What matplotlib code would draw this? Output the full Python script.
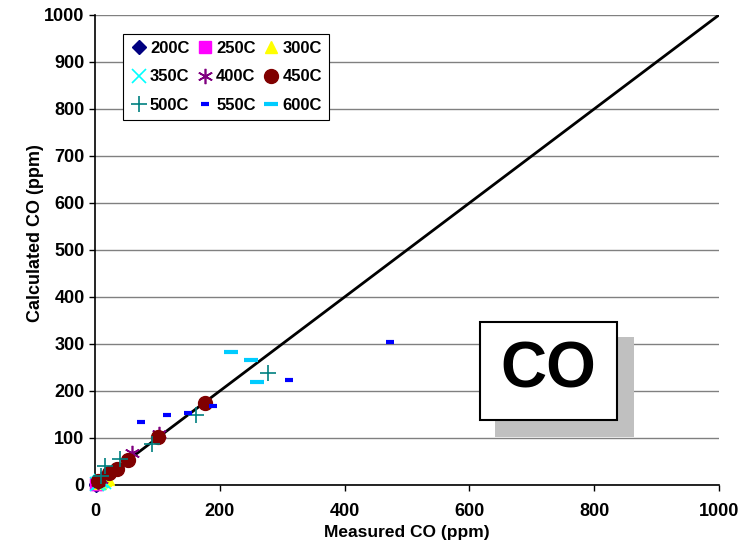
import matplotlib.pyplot as plt
from matplotlib.patches import Rectangle

plt.rcParams['font.family'] = ['Liberation Sans', 'DejaVu Sans']
plt.rcParams['font.weight'] = 'bold'

# measured / calculated CO (ppm) per temperature
m200 = [1, 3, 5, 2]
c200 = [1, 2, 4, 3]
m250 = [2, 4, 6, 3]
c250 = [3, 5, 6, 2]
m300 = [8, 12, 16, 20]
c300 = [5, 8, 10, 12]
m350 = [3, 6, 10, 14]
c350 = [2, 5, 8, 6]
m400 = [4, 10, 59, 103]
c400 = [6, 12, 68, 108]
m450 = [5, 22, 35, 53, 101, 176]
c450 = [8, 26, 34, 53, 102, 175]
m500 = [16, 40, 91, 162, 277, 10]
c500 = [40, 55, 87, 149, 238, 20]
m550 = [74, 115, 149, 189, 311, 473]
c550 = [134, 149, 153, 168, 223, 305]
m600 = [218, 250, 260]
c600 = [283, 266, 219]

series = [
    ("200C", m200, c200, dict(marker='D', color='#000080', ms=7, mec='#000080')),
    ("250C", m250, c250, dict(marker='s', color='#FF00FF', ms=8, mec='#FF00FF')),
    ("300C", m300, c300, dict(marker='^', color='#FFFF00', ms=9, mec='#FFFF00')),
    ("350C", m350, c350, dict(marker='x', color='#00FFFF', ms=10, mew=1.2)),
    ("400C", m400, c400, dict(marker=(6, 2, 0), color='#800080', ms=11, mew=1.2)),
    ("450C", m450, c450, dict(marker='o', color='#800000', ms=10, mec='#800000')),
    ("500C", m500, c500, dict(marker='+', color='#008080', ms=12, mew=1.2)),
    ("550C", m550, c550, dict(marker='_', color='#0000FF', ms=6, mew=3)),
    ("600C", m600, c600, dict(marker='_', color='#00CCFF', ms=10, mew=3)),
]

fig = plt.figure(figsize=(7.5, 5.53), dpi=100)
ax = fig.add_axes([0.1267, 0.123, 0.832, 0.850])

ax.set_xlim(0, 1000)
ax.set_ylim(0, 1000)
ax.set_yticks(range(0, 1001, 100))
ax.set_xticks(range(0, 1001, 200))
ax.grid(axis='y', color='#808080', linewidth=1)
ax.set_axisbelow(True)
for s in ['top', 'right']:
    ax.spines[s].set_visible(False)
for s in ['left', 'bottom']:
    ax.spines[s].set_linewidth(1.2)
ax.tick_params(labelsize=13, length=4, width=1)
ax.tick_params(axis='x', pad=9)
for lab in ax.get_xticklabels() + ax.get_yticklabels():
    lab.set_fontweight('bold')

ax.plot([0, 1000], [0, 1000], color='black', linewidth=2, zorder=2)

handles = {}
for name, mx, cy, st in series:
    h, = ax.plot(mx, cy, linestyle='none', label=name, zorder=3, clip_on=False, **st)
    handles[name] = h

# legend reads row by row, matplotlib fills column by column
order = ["200C", "350C", "500C", "250C", "400C", "550C", "300C", "450C", "600C"]
leg = ax.legend([handles[k] for k in order], order, ncol=3, loc='upper left',
                bbox_to_anchor=(0.032, 0.978),
                frameon=True, fancybox=False, edgecolor='black',
                prop={'weight': 'bold', 'size': 12},
                handletextpad=0.15, columnspacing=0.45, labelspacing=0.8,
                handlelength=1.0, borderpad=0.45, framealpha=1)
leg.get_frame().set_linewidth(0.8)

ax.set_xlabel("Measured CO (ppm)", fontsize=12.5, fontweight='bold')
ax.set_ylabel("Calculated CO (ppm)", fontsize=13, fontweight='bold')
ax.xaxis.set_label_coords(0.5, -0.086)
ax.yaxis.set_label_coords(-0.082, 0.536)

# CO label box with shadow
fig.patches.append(Rectangle((495 / 750, 1 - 437 / 553), 139 / 750, 100 / 553,
                             transform=fig.transFigure, facecolor='#C0C0C0',
                             edgecolor='none', zorder=5))
fig.patches.append(Rectangle((480 / 750, 1 - 420 / 553), 137 / 750, 98 / 553,
                             transform=fig.transFigure, facecolor='white',
                             edgecolor='black', linewidth=1.5, zorder=6))
fig.text(548 / 750, 1 - 371 / 553, "CO", fontsize=46, fontweight='bold',
         ha='center', va='center', zorder=7)

fig.savefig("out.png", dpi=100)
